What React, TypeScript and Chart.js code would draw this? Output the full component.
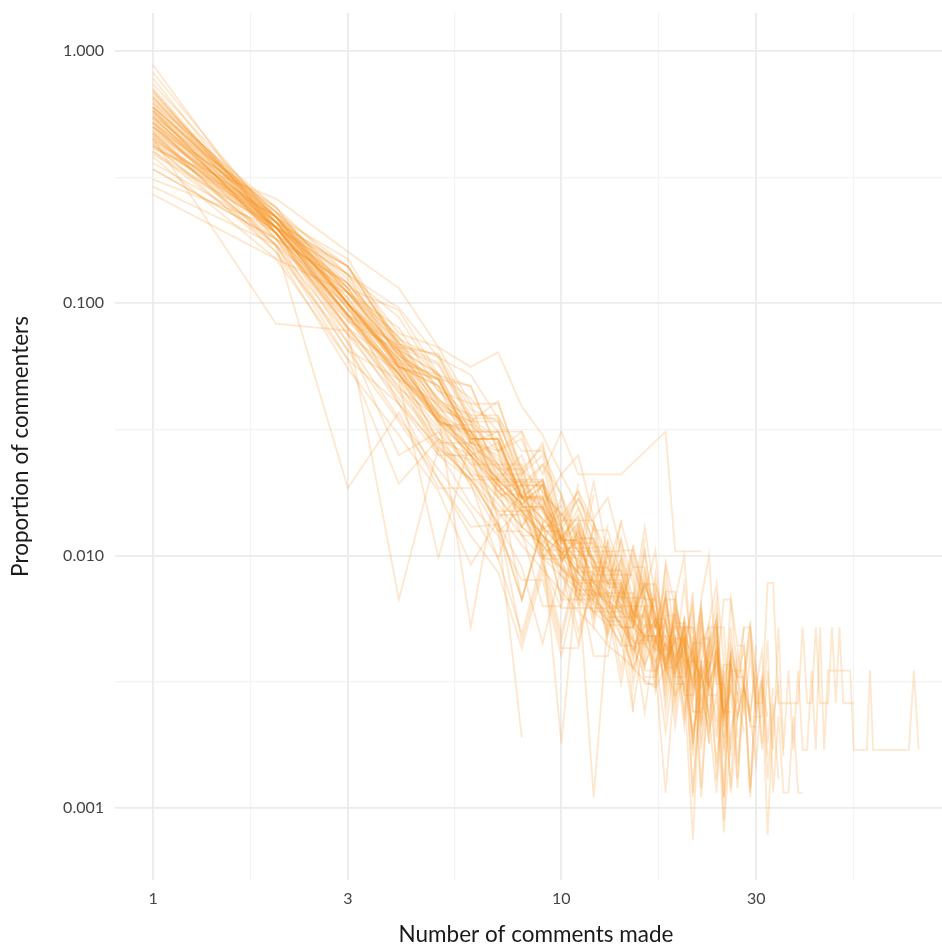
import React, { useEffect, useRef } from "react";
import { Chart, registerables } from "chart.js";

Chart.register(...registerables);

// Axis ticks (log scales) — majors are labelled, minors are grid only
const xMajorTicks = [1, 3, 10, 30];
const xTickLabels = ["1", "3", "10", "30"];
const xMinorTicks = [1.732, 5.477, 17.32, 51.96];
const yMajorTicks = [0.001, 0.01, 0.1, 1];
const yTickLabels = ["0.001", "0.010", "0.100", "1.000"];
const yMinorTicks = [0.003162, 0.03162, 0.3162];

const xTitle = "Number of comments made";
const yTitle = "Proportion of commenters";

// Proportion of commenters making k comments, k = 1, 2, 3, ... (null = none)
const s01 = [0.88, 0.19, 0.08, 0.045, 0.029, 0.021, 0.016, 0.012, 0.0098, 0.0083, 0.0068, 0.006, 0.0053, 0.0053, 0.0045, 0.0045, 0.0038, 0.0045, 0.0038, 0.003, 0.00075, 0.0038, 0.003, 0.0038, 0.0023, 0.003, 0.0023, 0.003, 0.0023, 0.0015, 0.003, 0.0023];
const s02 = [0.74, 0.22, 0.095, 0.053, 0.035, 0.025, 0.018, 0.015, 0.0115, 0.0092, 0.008, 0.0069, 0.0057, 0.0057, 0.0046, 0.0046, 0.0035, 0.00115, 0.0035, 0.0046, 0.00115, 0.0035, 0.0023, 0.00115, 0.0035, 0.00115, 0.0023, 0.0035, 0.00115, 0.0023, 0.0023, 0.0046, 0.00115, 0.0023, 0.00115, 0.00115, 0.0023, 0.00115, 0.00115];
const s03 = [0.6, 0.22, 0.11, 0.065, 0.042, 0.031, 0.023, 0.018, 0.0156, 0.013, 0.0104, 0.0104, 0.0078, 0.0078, 0.0052, 0.0078, 0.0052, 0.0078, 0.0026, 0.0052, 0.0052, 0.0026, 0.0052, 0.0052, 0.0026, 0.0052, 0.0026, 0.0052, 0.0052, 0.0026, 0.0026, 0.0078, 0.0078, 0.0026, 0.0026, 0.0026, 0.0026, 0.0026, 0.0052, 0.0026, 0.0026, 0.0052, 0.0026, 0.0026, 0.0026, 0.0052, 0.0026, 0.0052, 0.0026, 0.0026, 0.0026, 0.0026];
const s04 = [0.55, 0.19, 0.088, 0.052, 0.034, 0.025, 0.019, 0.0155, 0.012, 0.0103, 0.0086, 0.0086, 0.0069, 0.0069, 0.0052, 0.0069, 0.0052, 0.0069, 0.0035, 0.0052, 0.0052, 0.0017, 0.0035, 0.0052, 0.0052, 0.0017, 0.0035, 0.0035, 0.0052, 0.0035, 0.0017, 0.0035, 0.0017, 0.0052, 0.0017, 0.0035, 0.0017, 0.0035, 0.0017, 0.0017, 0.0035, 0.0017, 0.0052, 0.0017, 0.0035, 0.0035, 0.0035, 0.0035, 0.0035, 0.0035, 0.0035, 0.0017, 0.0017, 0.0017, 0.0017, 0.0017, 0.0035, 0.0017, 0.0017, 0.0017, 0.0017, 0.0017, 0.0017, 0.0017, 0.0017, 0.0017, 0.0017, 0.0017, 0.0017, 0.0017, 0.0017, null, 0.0035, null, 0.0017];
const s05 = [0.5, 0.21, 0.1, 0.06, 0.041, 0.03, 0.022, 0.017, 0.014, 0.0117, 0.0094, 0.0078, 0.007, 0.0062, 0.0055, 0.0047, 0.0047, 0.0055, 0.0039, 0.0047, 0.0031, 0.0047, 0.0031, 0.0039, 0.0023, 0.0039, 0.0023, 0.0031, 0.0055, 0.0023, 0.0031, 0.00078, 0.0023, 0.0031, 0.0016];
const s06 = [0.68, 0.21, 0.1, 0.056, 0.037, 0.026, 0.019, 0.015, 0.012, 0.0089, 0.0078, 0.0011, 0.0056, 0.0044, 0.0067, 0.0044, 0.0056, 0.0044, 0.0033, 0.0056, 0.0044, 0.0022, 0.0044, 0.0056, 0.0011, 0.0044, 0.0033, 0.0033, 0.0011, 0.0033];
const s07 = [0.64, 0.23, 0.1, 0.066, 0.036, 0.031, 0.02, 0.02, 0.0155, 0.0111, 0.0133, 0.0089, 0.0089, 0.0067, 0.0089, 0.0067, 0.0044, 0.0067, 0.0067, 0.0044, 0.0067, 0.0022, 0.0044, 0.0067, 0.0022, 0.0067, 0.0044, 0.0044, 0.0022, 0.0044];
const s08 = [0.62, 0.2, 0.095, 0.05, 0.04, 0.023, 0.023, 0.013, 0.017, 0.01, 0.013, 0.0067, 0.01, 0.01, 0.0067, 0.013, 0.0067, 0.0033, 0.0067, 0.01, 0.0033, 0.0067, 0.01, 0.0033, 0.0067, 0.0067, 0.0033];
const s09 = [0.57, 0.2, 0.09, 0.052, 0.035, 0.027, 0.023, 0.015, 0.0154, 0.0115, 0.0115, 0.0077, 0.0115, 0.0077, 0.0038, 0.0077, 0.0077, null, 0.0038, 0.0077, 0.0038, 0.0038, null, 0.0077, 0.0038];
const s10 = [0.34, 0.18, 0.12, 0.073, 0.052, 0.042, 0.031, 0.031, 0.021, 0.031, 0.021, 0.021, 0.021, 0.021, null, null, null, 0.031, 0.0104, null, null, 0.0104];
const s11 = [0.29, 0.17, 0.0185, 0.037, 0.0185, 0.0185];
const s12 = [0.47, 0.19, 0.078, 0.0067, 0.027, 0.02, 0.02, 0.0067, 0.013, 0.0133, 0.0067, 0.0067, 0.0133];
const s13 = [0.45, 0.2, 0.09, 0.049, 0.0098, 0.029, 0.0196, 0.0196, 0.0196, 0.0098, 0.0098, 0.0196, 0.0098];
const s14 = [0.52, 0.2, 0.098, 0.052, 0.036, 0.0052, 0.021, 0.0156, 0.0156, 0.0104, 0.0104, 0.0052, 0.0104, 0.0052, 0.0052, 0.0104, 0.0052];
const s15 = [0.5, 0.2, 0.1, 0.055, 0.034, 0.021, 0.013, 0.0019];
const s16 = [0.6, 0.22, 0.1, 0.058, 0.036, 0.025, 0.018, 0.0145, 0.011, 0.0018, 0.0091, 0.0073, 0.0055, 0.0073, 0.0055, 0.0036, 0.0055, 0.0036, 0.0036, 0.0055, 0.0018, 0.0036, 0.0018];
const s17 = [0.45, 0.083, 0.078, 0.04, 0.027, 0.02, 0.0134, 0.0067, 0.0134, 0.0067, 0.0134, 0.0067];
const s18 = [0.41, 0.26, 0.16, 0.115, 0.067, 0.056, 0.064, 0.039, 0.03, 0.021, 0.025, 0.014, 0.017, 0.0105, 0.0105, 0.007, 0.0105, 0.0035];
const s19 = [0.82, 0.21, 0.09, 0.05, 0.032, 0.023, 0.017, 0.013, 0.011, 0.009, 0.0078, 0.0066, 0.006, 0.0054, 0.0042, 0.0048, 0.0042, 0.0048, 0.0036, 0.0042, 0.003, 0.0036, 0.003, 0.0042, 0.0024, 0.003, 0.0012, 0.003, 0.0024, 0.0036, 0.0018];
const s20 = [0.78, 0.19, 0.08, 0.044, 0.028, 0.02, 0.015, 0.011, 0.0088, 0.0072, 0.006, 0.0052, 0.0044, 0.004, 0.0036, 0.0032, 0.003, 0.0036, 0.0028, 0.0032, 0.002, 0.0028, 0.002, 0.0028, 0.0008, 0.002, 0.0028, 0.002];
const s21 = [0.71, 0.2, 0.088, 0.046, 0.035, 0.021, 0.02, 0.012, 0.012, 0.0083, 0.0074, 0.0064, 0.0055, 0.0055, 0.0046, 0.0037, 0.0046, 0.0037, 0.0046, 0.0028, 0.0028, 0.0037, 0.0018, 0.0046, 0.0009, 0.0037, 0.0028];
const s22 = [0.66, 0.19, 0.085, 0.053, 0.029, 0.025, 0.015, 0.015, 0.01, 0.009, 0.0072, 0.006, 0.006, 0.0048, 0.0036, 0.0048, 0.0048, 0.0036, 0.0048, 0.0024, 0.0048, 0.0012, 0.0036, 0.0048, 0.0024, 0.0024];
const s23 = [0.59, 0.18, 0.08, 0.047, 0.031, 0.022, 0.017, 0.013, 0.011, 0.0088, 0.0077, 0.0066, 0.0055, 0.0044, 0.0044, 0.0033, 0.0033, 0.0055, 0.0033, 0.0033, 0.0044, 0.0011, 0.0033, 0.0022];
const s24 = [0.58, 0.21, 0.1, 0.06, 0.034, 0.031, 0.019, 0.019, 0.0125, 0.0125, 0.0078, 0.0078, 0.0062, 0.0062, 0.0047, 0.0062, 0.0047, 0.0031, 0.0062, 0.0047, 0.0016, 0.0047, 0.0047, 0.0031, 0.0031, 0.0016];
const s25 = [0.56, 0.22, 0.105, 0.056, 0.047, 0.028, 0.026, 0.017, 0.017, 0.0102, 0.0113, 0.0079, 0.0079, 0.0057, 0.0057, 0.0057, 0.0034, 0.0045, 0.0034, 0.0045, 0.0011, 0.0034, 0.0023, 0.0045, 0.0023];
const s26 = [0.54, 0.21, 0.11, 0.07, 0.041, 0.036, 0.022, 0.022, 0.0135, 0.0158, 0.009, 0.009, 0.009, 0.0068, 0.0068, 0.0068, 0.0045, 0.0068, 0.0045, 0.0023, 0.0045, 0.0045];
const s27 = [0.53, 0.2, 0.095, 0.06, 0.034, 0.03, 0.017, 0.019, 0.0105, 0.013, 0.0063, 0.0084, 0.0063, 0.0063, 0.0042, 0.0063, 0.0042, 0.0042, 0.0021, 0.0042, 0.0063, 0.0021, 0.0042];
const s28 = [0.52, 0.23, 0.12, 0.065, 0.053, 0.031, 0.031, 0.019, 0.019, 0.0119, 0.0142, 0.0095, 0.0071, 0.0071, 0.0071, 0.0047, 0.0071, 0.0024, 0.0047, 0.0047, 0.0024];
const s29 = [0.51, 0.19, 0.09, 0.054, 0.036, 0.026, 0.02, 0.016, 0.012, 0.0103, 0.0086, 0.0069, 0.0069, 0.0052, 0.0035, 0.0052, 0.0069, 0.0035, 0.0052, 0.0052, 0.0017, 0.0052, 0.0035, 0.0052, 0.0017, 0.0035, 0.0035, 0.0052];
const s30 = [0.49, 0.2, 0.105, 0.056, 0.05, 0.028, 0.025, 0.016, 0.019, 0.0094, 0.0125, 0.0094, 0.0094, 0.0062, 0.0094, 0.0062, 0.0031, 0.0094, 0.0062, null, 0.0031, 0.0062, 0.0031];
const s31 = [0.48, 0.22, 0.125, 0.066, 0.052, 0.031, 0.031, 0.019, 0.019, 0.0115, 0.0115, 0.0096, 0.0077, 0.0096, 0.0058, 0.0077, 0.0058, 0.0038, 0.0058, 0.0038, 0.0019, 0.0038, 0.0038, 0.0019, 0.0038];
const s32 = [0.46, 0.2, 0.12, 0.062, 0.05, 0.029, 0.029, 0.016, 0.019, 0.0107, 0.0107, 0.0107, 0.008, 0.008, 0.0054, 0.008, 0.0054, 0.0027, 0.0054, 0.0054, 0.0027, 0.0054];
const s33 = [0.45, 0.21, 0.14, 0.067, 0.057, 0.034, 0.034, 0.02, 0.02, 0.0134, 0.0168, 0.0134, 0.01, 0.0067, 0.01, 0.0067, 0.0067, 0.0034, 0.0067, 0.0034];
const s34 = [0.44, 0.19, 0.09, 0.068, 0.038, 0.034, 0.018, 0.02, 0.01, 0.012, 0.008, 0.008, 0.006, 0.006, 0.004, 0.006, 0.004, 0.002, 0.004];
const s35 = [0.43, 0.2, 0.115, 0.056, 0.047, 0.025, 0.028, 0.0156, 0.0156, 0.0094, 0.0125, 0.0094, 0.0063, 0.0094, 0.0031, 0.0063, 0.0063];
const s36 = [0.42, 0.22, 0.15, 0.069, 0.058, 0.035, 0.035, 0.019, 0.023, 0.0115, 0.0154, 0.0115, 0.0077, 0.0115, 0.0077, 0.0038, 0.0077, 0.0038];
const s37 = [0.42, 0.18, 0.085, 0.065, 0.033, 0.033, 0.0175, 0.0175, 0.01, 0.01, 0.005, 0.0075, 0.005, 0.0075, 0.0025, 0.005];
const s38 = [0.4, 0.2, 0.13, 0.06, 0.05, 0.029, 0.029, 0.0167, 0.0167, 0.0095, 0.0119, 0.0071, 0.0071, 0.0048, 0.0024];
const s39 = [0.62, 0.24, 0.1, 0.04, 0.025, 0.02, 0.0135, 0.009, 0.0045, 0.009, 0.0045, 0.009, 0.0045];
const s40 = [0.52, 0.17, 0.075, 0.042, 0.026, 0.016, 0.012, 0.008, 0.008, 0.004, 0.008, 0.004, 0.004, 0.008];
const s41 = [0.48, 0.16, 0.07, 0.035, 0.022, 0.015, 0.0098, 0.0049, 0.0098, 0.0049, 0.0098];
const s42 = [0.38, 0.15, 0.06, 0.04, 0.02, 0.013, 0.0133, 0.0067, 0.0133, 0.0067, 0.0067, 0.0133];
const s43 = [0.34, 0.18, 0.12, 0.07, 0.045, 0.034, 0.023, 0.023, 0.011, 0.017, 0.011, 0.0057, 0.011, 0.0057, 0.011];
const s44 = [0.27, 0.15, 0.11, 0.074, 0.04, 0.034, 0.028, 0.017, 0.017, 0.0115, 0.0115, 0.0057, 0.0115];
const s45 = [0.5, 0.24, 0.13, 0.088, 0.05, 0.047, 0.026, 0.029, 0.0176, 0.0147, 0.0117, 0.0117, 0.0088, 0.0088, 0.0059, 0.0088, 0.0059, 0.0029, 0.0059, 0.0029];
const s46 = [0.6, 0.21, 0.1, 0.057, 0.037, 0.027, 0.02, 0.016, 0.013, 0.0107, 0.0085, 0.0075, 0.0064, 0.0053, 0.0043, 0.0053, 0.0053, 0.0043, 0.0053, 0.0043, 0.0032, 0.0043, 0.0053, 0.0032, 0.0011, 0.0043, 0.0032, 0.0043, 0.0021, 0.0021];
const s47 = [0.55, 0.19, 0.07, 0.025, 0.031, 0.019, 0.0125, 0.0125, 0.0063, 0.0063, 0.0125, 0.0063];
const s48 = [0.46, 0.17, 0.06, 0.0193, 0.029, 0.0193, 0.0097, 0.0193, 0.0097, 0.0097, 0.0193];
const s49 = [0.58, 0.23, 0.14, 0.076, 0.067, 0.04, 0.04, 0.022, 0.027, 0.0135, 0.018, 0.0135, 0.009, 0.0135, 0.009, 0.009, 0.0045, 0.009, 0.0045];
const s50 = [0.47, 0.22, 0.13, 0.072, 0.061, 0.036, 0.036, 0.022, 0.018, 0.0144, 0.018, 0.0108, 0.0108, 0.0072, 0.0108, 0.0072, 0.0036, 0.0072, 0.0072, 0.0036, 0.0072];
const s51 = [0.63, 0.22, 0.1, 0.058, 0.039, 0.028, 0.022, 0.017, 0.014, 0.0112, 0.0096, 0.008, 0.0072, 0.0064, 0.0056, 0.0048, 0.0056, 0.0048, 0.004, 0.0048, 0.004, 0.0032, 0.004, 0.0056, 0.0016, 0.004, 0.0032, 0.0024, 0.004, 0.0024, 0.0032, 0.0016];
const s52 = [0.69, 0.2, 0.09, 0.052, 0.034, 0.025, 0.019, 0.015, 0.012, 0.0098, 0.0085, 0.0072, 0.0065, 0.0052, 0.0052, 0.0046, 0.0046, 0.0039, 0.0046, 0.0033, 0.0039, 0.0033, 0.0046, 0.0013, 0.0033, 0.0039, 0.0013, 0.0033, 0.0046, 0.0026, 0.0033, 0.0013, 0.0026, 0.0013];
const s53 = [0.44, 0.22, 0.115, 0.094, 0.052, 0.047, 0.026, 0.031, 0.0156, 0.021, 0.0156, 0.0104, 0.0104, 0.0104, 0.0052, 0.0104, 0.0052];
const s54 = [0.39, 0.2, 0.14, 0.069, 0.062, 0.034, 0.041, 0.021, 0.028, 0.0138, 0.0138, 0.0138, 0.0069, 0.0138];
const s55 = [0.57, 0.2, 0.09, 0.063, 0.034, 0.031, 0.021, 0.021, 0.0126, 0.0147, 0.0105, 0.0084, 0.0084, 0.0063, 0.0063, 0.0063, 0.0042, 0.0063, 0.0042, 0.0021, 0.0042, 0.0063, 0.0021, 0.0042, 0.0021, 0.0042];
const s56 = [0.5, 0.19, 0.11, 0.056, 0.05, 0.028, 0.031, 0.017, 0.02, 0.0112, 0.0112, 0.0112, 0.0084, 0.0084, 0.0056, 0.0084, 0.0056, 0.0056, 0.0028, 0.0056, 0.0028, 0.0056, 0.0028, 0.0028];
const s57 = [0.36, 0.19, 0.11, 0.064, 0.047, 0.035, 0.029, 0.0175, 0.023, 0.0175, 0.0117, 0.0117, 0.0058, 0.0117, 0.0058, 0.0117];
const s58 = [0.31, 0.2, 0.13, 0.096, 0.061, 0.052, 0.035, 0.026, 0.026, 0.0174, 0.0087, 0.0174];
const s59 = [0.65, 0.21, 0.08, 0.056, 0.028, 0.028, 0.014, 0.0175, 0.0105, 0.0105, 0.007, 0.007, 0.007, 0.0035, 0.007, 0.0035, 0.0035, 0.007, 0.0035];
const s60 = [0.7, 0.19, 0.075, 0.053, 0.026, 0.024, 0.0145, 0.0145, 0.0097, 0.012, 0.0073, 0.0073, 0.0048, 0.0073, 0.0048, 0.0024, 0.0048, 0.0048, 0.0024, 0.0048, 0.0024, 0.0024, 0.0048];
const s61 = [0.54, 0.22, 0.11, 0.063, 0.042, 0.031, 0.024, 0.019, 0.015, 0.012, 0.0105, 0.009, 0.0075, 0.0075, 0.006, 0.0052, 0.0052, 0.0052, 0.0037, 0.0052, 0.0037, 0.006, 0.003, 0.0015, 0.0037, 0.0037, 0.0015, 0.003, 0.0022];
const s62 = [0.42, 0.21, 0.14, 0.067, 0.063, 0.038, 0.034, 0.021, 0.025, 0.0126, 0.0168, 0.0126, 0.0126, 0.0084, 0.0084, 0.0042, 0.0084, 0.0042];
const s63 = [0.47, 0.17, 0.065, 0.05, 0.025, 0.025, 0.0124, 0.0155, 0.0093, 0.0062, 0.0062, 0.0062, 0.0062, 0.0031, 0.0062, 0.0031, 0.0031, 0.0062, 0.0031, 0.0031];
const s64 = [0.55, 0.24, 0.11, 0.08, 0.045, 0.04, 0.02, 0.025, 0.015, 0.01, 0.01, 0.01, 0.005, 0.01];
const s65 = [0.6, 0.23, 0.115, 0.062, 0.05, 0.029, 0.029, 0.017, 0.0173, 0.0115, 0.0135, 0.0096, 0.0077, 0.0077, 0.0058, 0.0077, 0.0058, 0.0038, 0.0058, 0.0038, 0.0038, 0.0019, 0.0038, 0.0058, 0.0019, 0.0038, 0.0019];
const s66 = [0.4, 0.17, 0.098, 0.065, 0.039, 0.033, 0.026, 0.013, 0.0195, 0.013, 0.0065, 0.013, 0.0065];
const s67 = [0.66, 0.22, 0.1, 0.055, 0.036, 0.026, 0.02, 0.016, 0.013, 0.0108, 0.009, 0.0078, 0.0066, 0.006, 0.0054, 0.0048, 0.0048, 0.0042, 0.0048, 0.0036, 0.0042, 0.003, 0.0036, 0.0042, 0.003, 0.0012, 0.0042, 0.003, 0.0012, 0.003, 0.0042, 0.0018, 0.003];
const s68 = [0.52, 0.21, 0.115, 0.058, 0.052, 0.029, 0.029, 0.017, 0.02, 0.0116, 0.0145, 0.0087, 0.0087, 0.0087, 0.0058, 0.0058, 0.0029, 0.0058, 0.0058, 0.0029, 0.0058, 0.0029];
const s69 = [0.43, 0.16, 0.055, 0.03, 0.018, 0.0092, 0.0138, 0.0046, 0.0092, 0.0046, 0.0092];
const s70 = [0.58, 0.18, 0.065, 0.034, 0.02, 0.012, 0.0086, 0.0043, 0.0086, 0.0043, 0.0043, 0.0086];

const seriesList = [
  s01, s02, s03, s04, s05, s06, s07, s08, s09, s10, s11, s12, s13, s14,
  s15, s16, s17, s18, s19, s20, s21, s22, s23, s24, s25, s26, s27, s28,
  s29, s30, s31, s32, s33, s34, s35, s36, s37, s38, s39, s40, s41, s42,
  s43, s44, s45, s46, s47, s48, s49, s50, s51, s52, s53, s54, s55, s56,
  s57, s58, s59, s60, s61, s62, s63, s64, s65, s66, s67, s68, s69, s70,
];

const near = (a: number, b: number) => Math.abs(Math.log10(a) - Math.log10(b)) < 1e-3;
const isMajorOf = (majors: number[], v: any) =>
  typeof v === "number" && v > 0 && majors.some((m) => near(m, v));

export default function App() {
  const ref = useRef<HTMLCanvasElement | null>(null);

  useEffect(() => {
    if (!ref.current) return;
    const datasets = seriesList.map((arr) => ({
      data: arr
        .map((v, i) => (v == null ? null : { x: i + 1, y: v }))
        .filter((p) => p !== null),
      borderColor: "rgba(247,147,30,0.22)",
      borderWidth: 1.8,
      pointRadius: 0,
      fill: false,
      tension: 0,
    }));

    const chart = new Chart(ref.current, {
      type: "line",
      data: { datasets: datasets as any },
      options: {
        animation: false,
        responsive: false,
        devicePixelRatio: 1,
        layout: { padding: { top: 13, right: 0, left: 0, bottom: 0 } },
        plugins: { legend: { display: false }, tooltip: { enabled: false } },
        scales: {
          x: {
            type: "logarithmic",
            min: 0.807,
            max: 93.1,
            afterBuildTicks: (s: any) => {
              s.ticks = [...xMajorTicks, ...xMinorTicks]
                .sort((a, b) => a - b)
                .map((v) => ({ value: v }));
            },
            afterFit: (s: any) => {
              s.height = 65;
              s.paddingLeft = 0;
              s.paddingRight = 0;
            },
            border: { display: false },
            grid: {
              drawTicks: false,
              color: (c: any) => (isMajorOf(xMajorTicks, c.tick?.value) ? "#EBEBEB" : "#F3F3F3"),
              lineWidth: (c: any) => (isMajorOf(xMajorTicks, c.tick?.value) ? 1.8 : 1.2),
            },
            ticks: {
              autoSkip: false,
              maxRotation: 0,
              padding: 9,
              color: "#444444",
              font: { family: "Lato", size: 16 },
              callback: (v: any) => {
                const i = xMajorTicks.findIndex((m) => near(m, Number(v)));
                return i >= 0 ? xTickLabels[i] : "";
              },
            },
            title: {
              display: true,
              text: xTitle,
              color: "#1A1A1A",
              font: { family: "Lato", size: 22.5 },
              padding: { top: 0, bottom: -3 },
            },
          },
          y: {
            type: "logarithmic",
            min: 0.000518,
            max: 1.415,
            afterBuildTicks: (s: any) => {
              s.ticks = [...yMajorTicks, ...yMinorTicks]
                .sort((a, b) => a - b)
                .map((v) => ({ value: v }));
            },
            afterFit: (s: any) => {
              s.width = 115;
              s.paddingTop = 0;
              s.paddingBottom = 0;
            },
            border: { display: false },
            grid: {
              drawTicks: false,
              color: (c: any) => (isMajorOf(yMajorTicks, c.tick?.value) ? "#EBEBEB" : "#F3F3F3"),
              lineWidth: (c: any) => (isMajorOf(yMajorTicks, c.tick?.value) ? 1.8 : 1.2),
            },
            ticks: {
              autoSkip: false,
              padding: 11,
              color: "#444444",
              font: { family: "Lato", size: 16 },
              callback: (v: any) => {
                const i = yMajorTicks.findIndex((m) => near(m, Number(v)));
                return i >= 0 ? yTickLabels[i] : "";
              },
            },
            title: {
              display: true,
              text: yTitle,
              color: "#1A1A1A",
              font: { family: "Lato", size: 22.5 },
              padding: { top: 7, bottom: 0 },
            },
          },
        },
      },
    });
    return () => chart.destroy();
  }, []);

  return (
    <div
      style={{
        position: "absolute",
        left: 0,
        top: 0,
        width: 942,
        height: 945,
        overflow: "hidden",
        background: "#FFFFFF",
      }}
    >
      <canvas ref={ref} width={957} height={945} style={{ display: "block", width: 957, height: 945 }} />
    </div>
  );
}
